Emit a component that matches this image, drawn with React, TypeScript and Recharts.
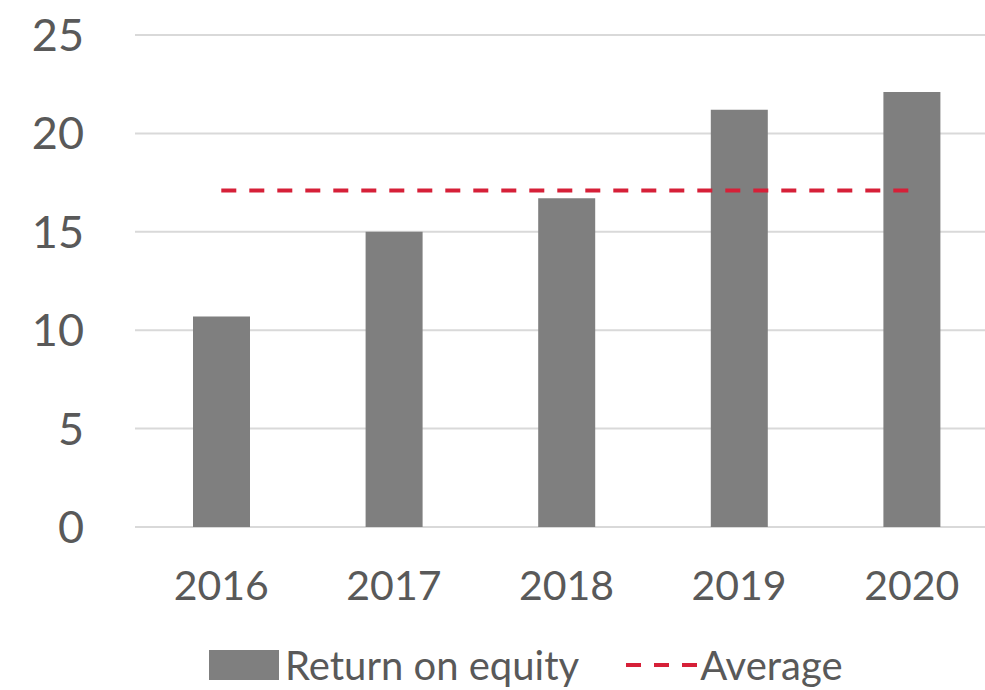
import { ComposedChart, Bar, Line, XAxis, YAxis, CartesianGrid, Legend } from 'recharts';

const years = ['2016', '2017', '2018', '2019', '2020'];
const returnOnEquity = [10.7, 15.0, 16.7, 21.2, 22.1];
const average = [17.1, 17.1, 17.1, 17.1, 17.1];
const yTicks = [0, 5, 10, 15, 20, 25];

const data = years.map((year, i) => ({
  year,
  roe: returnOnEquity[i],
  avg: average[i],
}));

const FONT = 'Lato, "Open Sans", sans-serif';
const TEXT = '#595959';
const BAR = '#7f7f7f';
const RED = '#d62038';

function LegendBox() {
  return (
    <div
      style={{
        height: 50,
        display: 'flex',
        alignItems: 'center',
        paddingLeft: 209,
        fontFamily: FONT,
        fontSize: 40,
        color: TEXT,
        lineHeight: 1,
      }}
    >
      <span style={{ display: 'inline-block', width: 70, height: 30, background: BAR, marginRight: 6 }} />
      <span>Return on equity</span>
      <svg width={72} height={30} style={{ marginLeft: 47, marginRight: 2 }}>
        <line x1={0} y1={15} x2={72} y2={15} stroke={RED} strokeWidth={4} strokeDasharray="15 13" />
      </svg>
      <span>Average</span>
    </div>
  );
}

export default function App() {
  return (
    <div style={{ position: 'absolute', left: 0, top: 0, width: 985, height: 690, overflow: 'hidden', background: '#fff' }}>
      <ComposedChart width={1000} height={690} data={data} margin={{ top: 35, right: 2, left: 0, bottom: 0 }}>
        <CartesianGrid vertical={false} stroke="#d9d9d9" strokeWidth={2} />
        <XAxis
          dataKey="year"
          axisLine={false}
          tickLine={false}
          tickSize={0}
          tickMargin={44}
          height={113}
          tick={{ fill: TEXT, fontSize: 41, fontFamily: FONT }}
        />
        <YAxis
          domain={[0, 25]}
          ticks={yTicks}
          axisLine={false}
          tickLine={false}
          tickSize={0}
          tickMargin={51}
          width={135}
          tick={{ fill: TEXT, fontSize: 45, fontFamily: FONT }}
        />
        <Legend verticalAlign="bottom" content={() => <LegendBox />} wrapperStyle={{ left: 0, width: 1000 }} />
        <Bar dataKey="roe" name="Return on equity" fill={BAR} barSize={57} isAnimationActive={false} />
        <Line
          type="linear"
          dataKey="avg"
          name="Average"
          stroke={RED}
          strokeWidth={4}
          strokeDasharray="15 13"
          dot={false}
          activeDot={false}
          isAnimationActive={false}
        />
      </ComposedChart>
    </div>
  );
}
